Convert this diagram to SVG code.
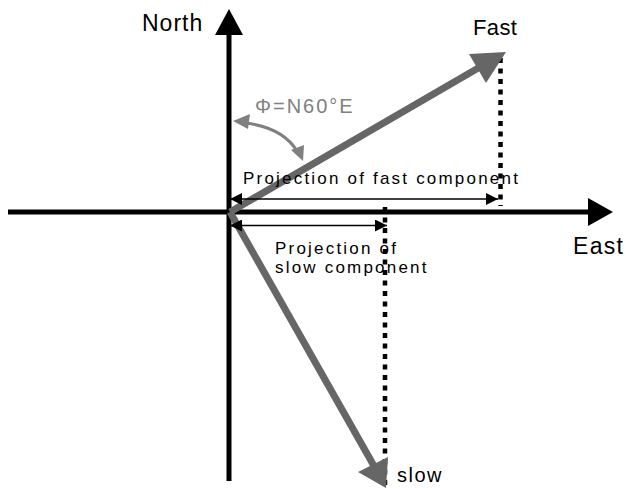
<svg xmlns="http://www.w3.org/2000/svg" width="626" height="489" viewBox="0 0 626 489">
<style>
text{font-family:"Liberation Sans",Arial,sans-serif;fill:#000}
.axis{stroke:#000;stroke-width:5;fill:none}
.vec{stroke:#666;stroke-width:7;fill:none}
.dot{stroke:#000;stroke-width:4.5;stroke-dasharray:5 5.5;fill:none}
.proj{stroke:#000;stroke-width:1.3;fill:none;marker-start:url(#ah);marker-end:url(#ah)}
.lbl{font-size:17px;letter-spacing:2.2px}
</style>
<defs>
<marker id="ah" viewBox="0 0 12 12" refX="12" refY="6" markerWidth="12" markerHeight="12" markerUnits="userSpaceOnUse" orient="auto-start-reverse">
<path d="M0,0 L12,6 L0,12 Z" fill="#000"/>
</marker>
</defs>
<rect width="626" height="489" fill="#fff"/>
<g id="connectors">
<line class="dot" x1="500.5" y1="58" x2="500.5" y2="206"/>
<line class="dot" x1="385" y1="207" x2="385" y2="489"/>
<line class="axis" x1="8" y1="212" x2="590" y2="212"/>
<polygon points="588,198 613,212 588,226" fill="#000"/>
<line class="axis" x1="229" y1="481" x2="229" y2="33"/>
<polygon points="215,35 229,9 243,35" fill="#000"/>
<line class="vec" x1="230" y1="212" x2="480" y2="67"/>
<polygon points="469,54 506,52 486,83" fill="#666"/>
<line class="vec" x1="230" y1="212" x2="374" y2="466"/>
<polygon points="358,472 388,457 386,488" fill="#666"/>
<line class="proj" x1="230" y1="199" x2="498" y2="199"/>
<line class="proj" x1="230" y1="225.5" x2="387" y2="225.5"/>
<path d="M246,123 Q283,128 297,151" stroke="#808080" stroke-width="3" fill="none"/>
<polygon points="233,121 250,114 248,129" fill="#808080"/>
<polygon points="303,161 291,150 304,145" fill="#808080"/>
</g>
<g id="north"><text x="142" y="31" font-size="23" letter-spacing="1">North</text></g>
<g id="east"><text x="573" y="254" font-size="23" letter-spacing="1.3">East</text></g>
<g id="fast"><text x="473" y="35" font-size="22" letter-spacing="0.4">Fast</text></g>
<g id="slow"><text x="397" y="482" font-size="20" letter-spacing="1.5">slow</text></g>
<g id="angle"><text x="255" y="113" font-size="20" letter-spacing="2" style="fill:#808080">Φ=N60°E</text></g>
<g id="proj-fast"><text class="lbl" x="243" y="184">Projection of fast component</text></g>
<g id="proj-slow"><text class="lbl" x="275" y="254">Projection of</text><text class="lbl" x="275" y="273">slow component</text></g>
</svg>
